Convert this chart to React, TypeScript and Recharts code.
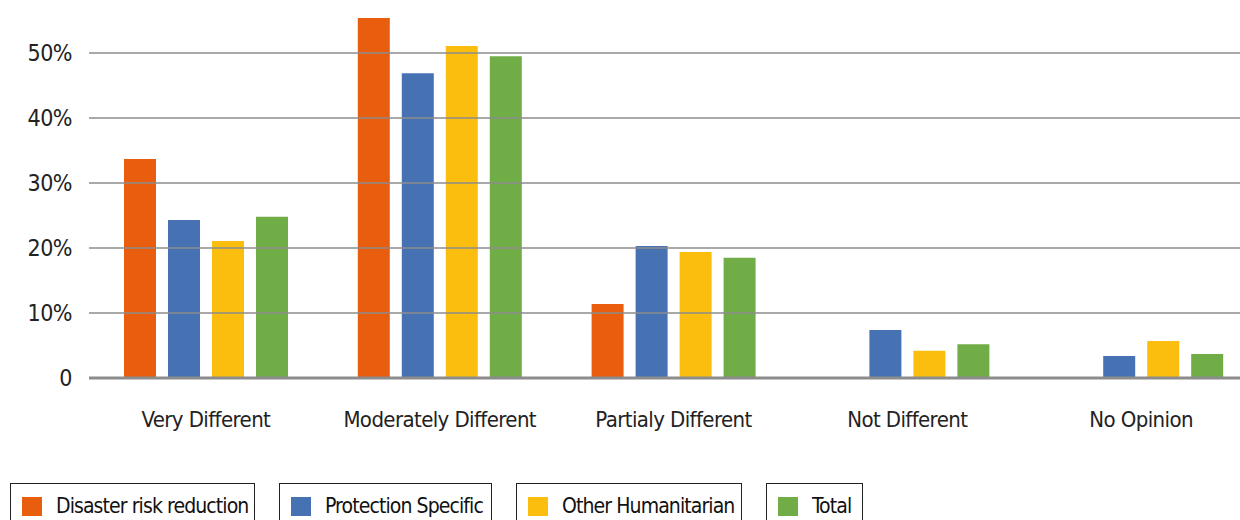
import { BarChart, Bar, XAxis, YAxis, ReferenceLine } from 'recharts';

const categories = ['Very Different', 'Moderately Different', 'Partialy Different', 'Not Different', 'No Opinion'];
const disasterRisk = [33.7, 55.4, 11.4, 0, 0];
const protection = [24.3, 46.9, 20.3, 7.4, 3.4];
const otherHumanitarian = [21.1, 51.1, 19.4, 4.2, 5.7];
const total = [24.8, 49.5, 18.5, 5.2, 3.7];
const yTicks = [0, 10, 20, 30, 40, 50];

const SERIES = [
  { key: 'drr', name: 'Disaster risk reduction', color: '#E95D0F', values: disasterRisk, boxW: 245 },
  { key: 'prot', name: 'Protection Specific', color: '#4672B4', values: protection, boxW: 213 },
  { key: 'other', name: 'Other Humanitarian', color: '#FBBE0F', values: otherHumanitarian, boxW: 226 },
  { key: 'total', name: 'Total', color: '#70AD47', values: total, boxW: 97 },
];

const data = categories.map((c, i) => {
  const row: Record<string, string | number> = { category: c };
  SERIES.forEach((s) => { row[s.key] = s.values[i]; });
  return row;
});

const FONT = '"DejaVu Sans Condensed", sans-serif';

function LegendBoxes() {
  return (
    <div style={{ position: 'absolute', left: 10, top: 483, display: 'flex', gap: 24, fontFamily: FONT, fontSize: 21, letterSpacing: -0.9, color: '#111' }}>
      {SERIES.map((s) => (
        <div
          key={s.key}
          style={{
            display: 'flex', alignItems: 'center', border: '1.5px solid #222', height: 50, width: s.boxW,
            padding: '0 0 4px 11px', boxSizing: 'border-box', whiteSpace: 'nowrap',
          }}
        >
          <span style={{ width: 20, height: 19, background: s.color, display: 'inline-block', marginRight: 14, flex: 'none' }} />
          <span>{s.name}</span>
        </div>
      ))}
    </div>
  );
}

export default function App() {
  return (
    <div style={{ position: 'absolute', left: 0, top: 0, width: 1240, height: 520, overflow: 'hidden', background: '#fff' }}>
      <BarChart
        width={1258}
        height={520}
        data={data}
        margin={{ top: 18, right: 0, bottom: 82, left: 0 }}
        barCategoryGap={35}
        barGap={12}
      >
        <YAxis
          domain={[0, 55.4]}
          ticks={yTicks}
          width={89}
          axisLine={false}
          tickLine={false}
          tickFormatter={(v) => (v === 0 ? '0' : `${v}%`)}
          tick={{ fill: '#222', fontSize: 23, fontFamily: FONT, dx: -9, letterSpacing: -0.5 }}
        />
        <XAxis
          dataKey="category"
          axisLine={{ stroke: '#8c8c8c', strokeWidth: 3 }}
          tickLine={false}
          height={60}
          tick={{ fill: '#222', fontSize: 22, fontFamily: FONT, dy: 25, letterSpacing: -0.6 }}
        />
        {yTicks.slice(1).map((t) => (
          <ReferenceLine key={t} y={t} stroke="#8c8c8c" strokeWidth={1.5} />
        ))}
        {SERIES.map((s) => (
          <Bar key={s.key} dataKey={s.key} name={s.name} fill={s.color} barSize={32} isAnimationActive={false} />
        ))}
      </BarChart>
      <LegendBoxes />
    </div>
  );
}
